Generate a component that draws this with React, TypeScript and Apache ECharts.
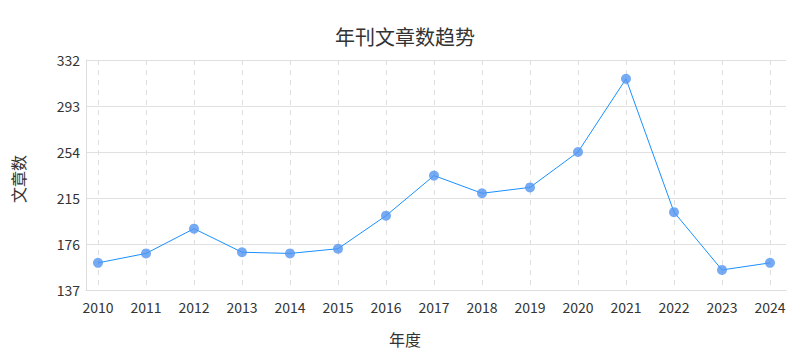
import React, { useEffect, useRef } from "react";
import * as echarts from "echarts";

const years = ["2010", "2011", "2012", "2013", "2014", "2015", "2016", "2017", "2018", "2019", "2020", "2021", "2022", "2023", "2024"];
const counts = [160, 168, 189, 169, 168, 172, 200, 234, 219, 224, 254, 316, 203, 154, 160];
const yMin = 137;
const yMax = 332;
const yStep = 39;

const FONT = "'Noto Sans CJK SC', 'Noto Sans', sans-serif";

export default function App() {
  const ref = useRef<HTMLDivElement>(null);
  useEffect(() => {
    document.body.style.margin = "0";
    if (!ref.current) return;
    const chart = echarts.init(ref.current, null, { renderer: "svg" });
    chart.setOption({
      animation: false,
      textStyle: { fontFamily: FONT },
      title: {
        text: "年刊文章数趋势",
        left: "center",
        top: 21,
        textStyle: { fontSize: 20, fontWeight: "normal", color: "#333", fontFamily: FONT },
      },
      grid: [
        { left: 86, right: 24, top: 60, bottom: 70 },
        { left: 98, right: 40, top: 60, bottom: 70 },
      ],
      xAxis: [
        {
          type: "category",
          gridIndex: 0,
          data: years,
          axisLine: { show: true, lineStyle: { color: "#dddddd" } },
          axisTick: { show: false },
          axisLabel: { show: false },
          splitLine: { show: false },
        },
        {
          type: "category",
          gridIndex: 1,
          data: years,
          boundaryGap: false,
          name: "年度",
          nameLocation: "middle",
          nameGap: 41,
          nameTextStyle: { fontSize: 16, color: "#333", fontFamily: FONT, padding: [0, 58, 0, 0] },
          axisLine: { show: false },
          axisTick: { show: false },
          axisLabel: { color: "#333", fontSize: 14, margin: 10, fontFamily: FONT },
          splitLine: { show: true, lineStyle: { color: "#dddddd", type: [5, 5] } },
        },
      ],
      yAxis: [
        {
          type: "value",
          gridIndex: 0,
          min: yMin,
          max: yMax,
          interval: yStep,
          name: "文章数",
          nameLocation: "middle",
          nameGap: 60,
          nameTextStyle: { fontSize: 16, color: "#333", fontFamily: FONT, padding: [0, 8, 0, 0] },
          axisLine: { show: true, lineStyle: { color: "#dddddd" } },
          axisTick: { show: false },
          axisLabel: { color: "#333", fontSize: 14, margin: 6, fontFamily: FONT },
          splitLine: { show: true, lineStyle: { color: "#e0e0e0" } },
        },
        {
          type: "value",
          gridIndex: 1,
          min: yMin,
          max: yMax,
          interval: yStep,
          show: false,
          splitLine: { show: false },
        },
      ],
      series: [
        {
          type: "line",
          xAxisIndex: 1,
          yAxisIndex: 1,
          data: counts,
          symbol: "circle",
          symbolSize: 10,
          lineStyle: { color: "#1a90ff", width: 1 },
          itemStyle: { color: "rgba(84,150,240,0.8)" },
        },
      ],
    });
    return () => chart.dispose();
  }, []);
  return <div ref={ref} style={{ width: 810, height: 360 }} />;
}
